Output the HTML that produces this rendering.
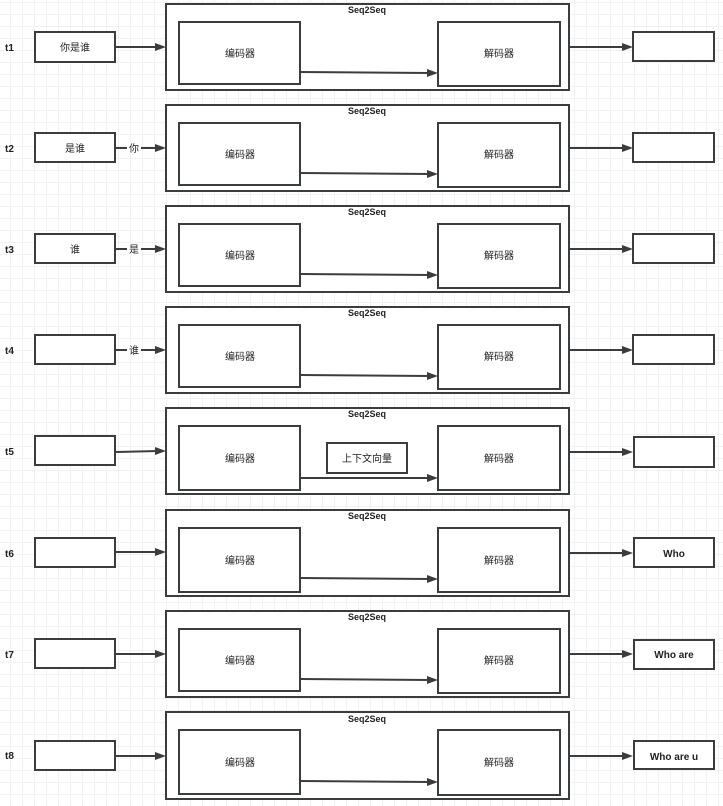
<!DOCTYPE html>
<html><head><meta charset="utf-8"><style>
html,body{margin:0;padding:0;background:#fff}
svg{display:block}
text{font-family:"Liberation Sans","Noto Sans CJK SC",sans-serif;fill:#222}
.b{fill:#fff;stroke:#3a3d40;stroke-width:2}
.l{stroke:#3a3d40;stroke-width:2;fill:none}
.a{fill:#3a3d40}
</style></head><body>
<svg width="723" height="806" viewBox="0 0 723 806" xmlns="http://www.w3.org/2000/svg">
<defs>
<pattern id="g" x="10" y="2" width="12" height="12" patternUnits="userSpaceOnUse">
<path d="M0 0H12M0 0V12" stroke="#e6e6e6" stroke-width="1" fill="none"/>
</pattern>
</defs>
<rect width="723" height="806" fill="url(#g)"/>

<g id="r1">
<text x="5" y="51" font-size="10" font-weight="bold">t1</text>
<rect class="b" x="35" y="32" width="80" height="30"/>
<text x="75" y="51" font-size="10" text-anchor="middle">你是谁</text>
<line class="l" x1="115" y1="47" x2="158" y2="47"/><path class="a" d="M166 47 L155 43 L155 51Z"/>
<rect class="b" x="166" y="4" width="403" height="86"/>
<text x="367" y="13" font-size="9" font-weight="bold" text-anchor="middle">Seq2Seq</text>
<rect class="b" x="179" y="22" width="121" height="62"/>
<text x="240" y="57" font-size="10" text-anchor="middle">编码器</text>
<rect class="b" x="438" y="22" width="122" height="64"/>
<text x="499" y="57" font-size="10" text-anchor="middle">解码器</text>
<line class="l" x1="300" y1="72" x2="430" y2="73"/><path class="a" d="M438 73 L427 69 L427 77Z"/>
<line class="l" x1="569" y1="47" x2="625" y2="47"/><path class="a" d="M633 47 L622 43 L622 51Z"/>
<rect class="b" x="633" y="32" width="81" height="29"/>
</g>

<g transform="translate(0,101)">
<text x="5" y="51" font-size="10" font-weight="bold">t2</text>
<rect class="b" x="35" y="32" width="80" height="29"/>
<text x="75" y="51" font-size="10" text-anchor="middle">是谁</text>
<line class="l" x1="115" y1="47" x2="158" y2="47"/><path class="a" d="M166 47 L155 43 L155 51Z"/>
<rect x="127" y="41" width="14" height="12" fill="#fff"/><text x="134" y="51" font-size="10" text-anchor="middle">你</text>
<rect class="b" x="166" y="4" width="403" height="86"/>
<text x="367" y="13" font-size="9" font-weight="bold" text-anchor="middle">Seq2Seq</text>
<rect class="b" x="179" y="22" width="121" height="62"/>
<text x="240" y="57" font-size="10" text-anchor="middle">编码器</text>
<rect class="b" x="438" y="22" width="122" height="64"/>
<text x="499" y="57" font-size="10" text-anchor="middle">解码器</text>
<line class="l" x1="300" y1="72" x2="430" y2="73"/><path class="a" d="M438 73 L427 69 L427 77Z"/>
<line class="l" x1="569" y1="47" x2="625" y2="47"/><path class="a" d="M633 47 L622 43 L622 51Z"/>
<rect class="b" x="633" y="32" width="81" height="29"/>
</g>

<g transform="translate(0,202)">
<text x="5" y="51" font-size="10" font-weight="bold">t3</text>
<rect class="b" x="35" y="32" width="80" height="29"/>
<text x="75" y="51" font-size="10" text-anchor="middle">谁</text>
<line class="l" x1="115" y1="47" x2="158" y2="47"/><path class="a" d="M166 47 L155 43 L155 51Z"/>
<rect x="127" y="41" width="14" height="12" fill="#fff"/><text x="134" y="51" font-size="10" text-anchor="middle">是</text>
<rect class="b" x="166" y="4" width="403" height="86"/>
<text x="367" y="13" font-size="9" font-weight="bold" text-anchor="middle">Seq2Seq</text>
<rect class="b" x="179" y="22" width="121" height="62"/>
<text x="240" y="57" font-size="10" text-anchor="middle">编码器</text>
<rect class="b" x="438" y="22" width="122" height="64"/>
<text x="499" y="57" font-size="10" text-anchor="middle">解码器</text>
<line class="l" x1="300" y1="72" x2="430" y2="73"/><path class="a" d="M438 73 L427 69 L427 77Z"/>
<line class="l" x1="569" y1="47" x2="625" y2="47"/><path class="a" d="M633 47 L622 43 L622 51Z"/>
<rect class="b" x="633" y="32" width="81" height="29"/>
</g>

<g transform="translate(0,303)">
<text x="5" y="51" font-size="10" font-weight="bold">t4</text>
<rect class="b" x="35" y="32" width="80" height="29"/>
<line class="l" x1="115" y1="47" x2="158" y2="47"/><path class="a" d="M166 47 L155 43 L155 51Z"/>
<rect x="127" y="41" width="14" height="12" fill="#fff"/><text x="134" y="51" font-size="10" text-anchor="middle">谁</text>
<rect class="b" x="166" y="4" width="403" height="86"/>
<text x="367" y="13" font-size="9" font-weight="bold" text-anchor="middle">Seq2Seq</text>
<rect class="b" x="179" y="22" width="121" height="62"/>
<text x="240" y="57" font-size="10" text-anchor="middle">编码器</text>
<rect class="b" x="438" y="22" width="122" height="64"/>
<text x="499" y="57" font-size="10" text-anchor="middle">解码器</text>
<line class="l" x1="300" y1="72" x2="430" y2="73"/><path class="a" d="M438 73 L427 69 L427 77Z"/>
<line class="l" x1="569" y1="47" x2="625" y2="47"/><path class="a" d="M633 47 L622 43 L622 51Z"/>
<rect class="b" x="633" y="32" width="81" height="29"/>
</g>

<g transform="translate(0,404)">
<text x="5" y="51" font-size="10" font-weight="bold">t5</text>
<rect class="b" x="35" y="32" width="80" height="29"/>
<line class="l" x1="115" y1="48" x2="158" y2="47"/><path class="a" d="M166 47 L155 43 L155 51Z"/>
<rect class="b" x="166" y="4" width="403" height="86"/>
<text x="367" y="13" font-size="9" font-weight="bold" text-anchor="middle">Seq2Seq</text>
<rect class="b" x="179" y="22" width="121" height="64"/>
<text x="240" y="58" font-size="10" text-anchor="middle">编码器</text>
<rect class="b" x="438" y="22" width="122" height="64"/>
<text x="499" y="58" font-size="10" text-anchor="middle">解码器</text>
<rect class="b" x="327" y="39" width="80" height="30"/>
<text x="367" y="58" font-size="10" text-anchor="middle">上下文向量</text>
<line class="l" x1="300" y1="74" x2="430" y2="74"/><path class="a" d="M438 74 L427 70 L427 78Z"/>
<line class="l" x1="569" y1="48" x2="625" y2="48"/><path class="a" d="M633 48 L622 44 L622 52Z"/>
<rect class="b" x="634" y="33" width="80" height="30"/>
</g>

<g transform="translate(0,506)">
<text x="5" y="51" font-size="10" font-weight="bold">t6</text>
<rect class="b" x="35" y="32" width="80" height="29"/>
<line class="l" x1="115" y1="46" x2="158" y2="46"/><path class="a" d="M166 46 L155 42 L155 50Z"/>
<rect class="b" x="166" y="4" width="403" height="86"/>
<text x="367" y="13" font-size="9" font-weight="bold" text-anchor="middle">Seq2Seq</text>
<rect class="b" x="179" y="22" width="121" height="64"/>
<text x="240" y="58" font-size="10" text-anchor="middle">编码器</text>
<rect class="b" x="438" y="22" width="122" height="64"/>
<text x="499" y="58" font-size="10" text-anchor="middle">解码器</text>
<line class="l" x1="300" y1="72" x2="430" y2="73"/><path class="a" d="M438 73 L427 69 L427 77Z"/>
<line class="l" x1="569" y1="47" x2="625" y2="47"/><path class="a" d="M633 47 L622 43 L622 51Z"/>
<rect class="b" x="634" y="32" width="80" height="29"/>
<text x="674" y="51" font-size="10" font-weight="bold" text-anchor="middle">Who</text>
</g>

<g transform="translate(0,607)">
<text x="5" y="51" font-size="10" font-weight="bold">t7</text>
<rect class="b" x="35" y="32" width="80" height="29"/>
<line class="l" x1="115" y1="47" x2="158" y2="47"/><path class="a" d="M166 47 L155 43 L155 51Z"/>
<rect class="b" x="166" y="4" width="403" height="86"/>
<text x="367" y="13" font-size="9" font-weight="bold" text-anchor="middle">Seq2Seq</text>
<rect class="b" x="179" y="22" width="121" height="62"/>
<text x="240" y="57" font-size="10" text-anchor="middle">编码器</text>
<rect class="b" x="438" y="22" width="122" height="64"/>
<text x="499" y="57" font-size="10" text-anchor="middle">解码器</text>
<line class="l" x1="300" y1="72" x2="430" y2="73"/><path class="a" d="M438 73 L427 69 L427 77Z"/>
<line class="l" x1="569" y1="47" x2="625" y2="47"/><path class="a" d="M633 47 L622 43 L622 51Z"/>
<rect class="b" x="634" y="33" width="80" height="29"/>
<text x="674" y="51" font-size="10" font-weight="bold" text-anchor="middle">Who are</text>
</g>

<g transform="translate(0,708)">
<text x="5" y="51" font-size="10" font-weight="bold">t8</text>
<rect class="b" x="35" y="33" width="80" height="29"/>
<line class="l" x1="115" y1="48" x2="158" y2="48"/><path class="a" d="M166 48 L155 44 L155 52Z"/>
<rect class="b" x="166" y="4" width="403" height="87"/>
<text x="367" y="14" font-size="9" font-weight="bold" text-anchor="middle">Seq2Seq</text>
<rect class="b" x="179" y="22" width="121" height="64"/>
<text x="240" y="58" font-size="10" text-anchor="middle">编码器</text>
<rect class="b" x="438" y="22" width="122" height="65"/>
<text x="499" y="58" font-size="10" text-anchor="middle">解码器</text>
<line class="l" x1="300" y1="73" x2="430" y2="74"/><path class="a" d="M438 74 L427 70 L427 78Z"/>
<line class="l" x1="569" y1="48" x2="625" y2="48"/><path class="a" d="M633 48 L622 44 L622 52Z"/>
<rect class="b" x="634" y="33" width="80" height="28"/>
<text x="674" y="52" font-size="10" font-weight="bold" text-anchor="middle">Who are u</text>
</g>
</svg>
</body></html>
